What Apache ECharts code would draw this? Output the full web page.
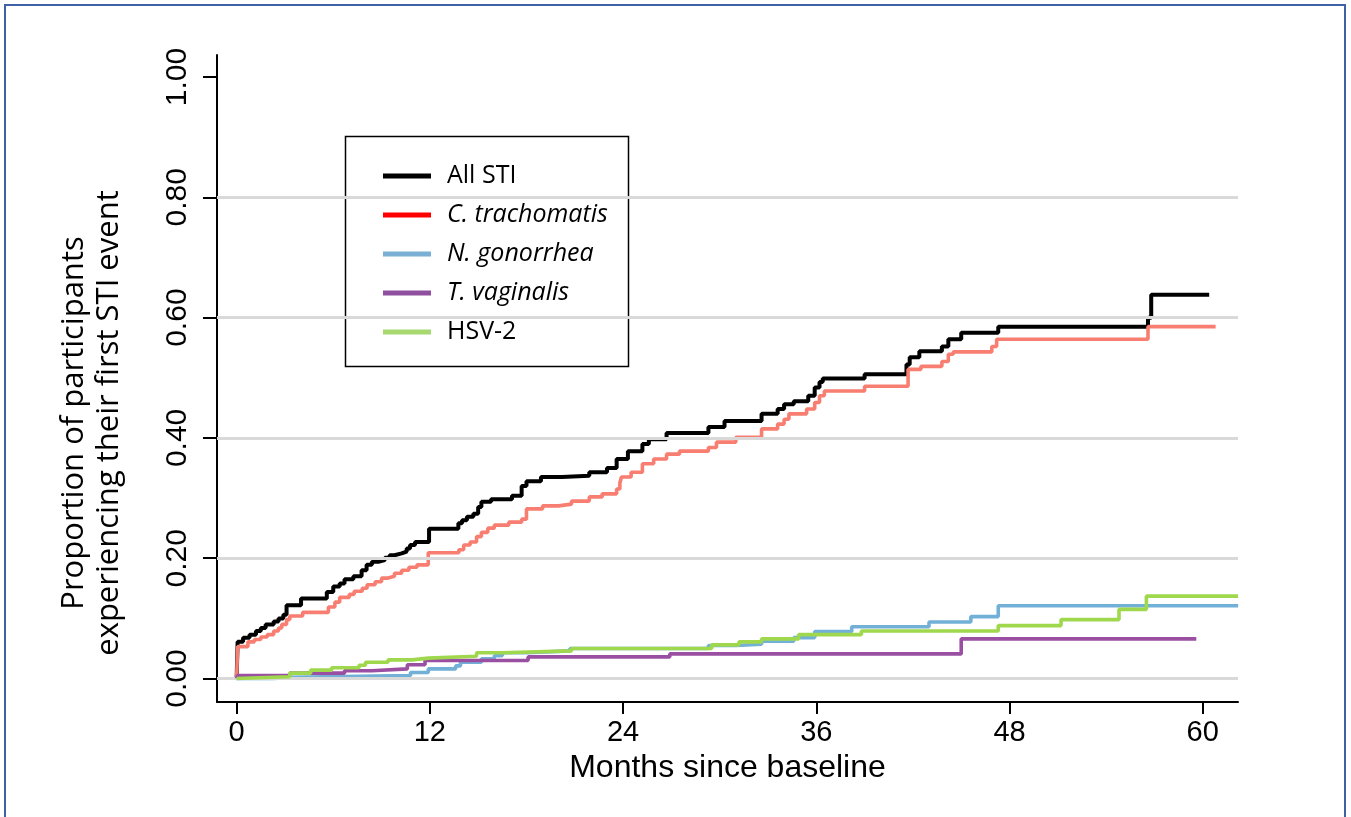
<!DOCTYPE html>
<html>
<head>
<meta charset="utf-8">
<script src="https://cdn.jsdelivr.net/npm/echarts@6/dist/echarts.min.js"></script>
<style>html,body{margin:0;padding:0;background:#fff;}#c{width:1351px;height:817px;}</style>
</head>
<body>
<div id="c"></div>
<script>
// ---- data (months since baseline, cumulative proportion) ----
const seriesNames = ['All STI', 'C. trachomatis', 'N. gonorrhea', 'T. vaginalis', 'HSV-2'];
const xTicks = [0, 12, 24, 36, 48, 60];
const yTicks = [0, 0.2, 0.4, 0.6, 0.8, 1.0];
const gridValues = [0, 0.2, 0.4, 0.6, 0.8];

const allSTI = [[0,0],[0.06,0.061],[0.4,0.068],[0.8,0.073],[1.2,0.079],[1.5,0.084],[1.8,0.09],[2.3,0.095],[2.6,0.1],[2.9,0.106],[3.1,0.122],[4.0,0.133],[5.6,0.144],[6.0,0.153],[6.4,0.158],[6.7,0.165],[7.25,0.17],[7.76,0.18],[8.07,0.189],[8.4,0.194],[8.8,0.197],[9.2,0.201],[9.5,0.205],[9.8,0.208],[10.25,0.211],[10.56,0.216],[10.77,0.222],[11.08,0.227],[11.95,0.249],[13.77,0.258],[14.0,0.263],[14.3,0.269],[14.7,0.274],[15.0,0.285],[15.2,0.294],[15.8,0.298],[17.1,0.304],[17.7,0.32],[18.0,0.328],[18.9,0.335],[20.2,0.337],[21.9,0.343],[23.0,0.35],[23.6,0.365],[24.3,0.378],[25.2,0.39],[25.6,0.398],[26.7,0.408],[29.3,0.418],[30.3,0.428],[32.6,0.44],[33.6,0.448],[34.0,0.456],[34.6,0.461],[35.5,0.47],[35.9,0.484],[36.2,0.493],[36.4,0.499],[39.0,0.506],[41.6,0.522],[41.8,0.534],[42.4,0.544],[43.8,0.552],[44.2,0.564],[45.0,0.575],[47.3,0.585],[56.6,0.60],[56.8,0.638],[60.4,0.638]];

const cTrachomatis = [[0,0],[0.06,0.053],[0.7,0.061],[1.1,0.065],[1.5,0.069],[1.9,0.073],[2.3,0.079],[2.6,0.084],[2.8,0.09],[3.1,0.098],[3.3,0.104],[4.1,0.11],[5.7,0.119],[6.1,0.127],[6.4,0.135],[7.0,0.14],[7.3,0.145],[7.8,0.15],[8.1,0.156],[8.6,0.161],[9.0,0.167],[9.4,0.17],[9.8,0.175],[10.25,0.18],[10.7,0.185],[11.2,0.189],[11.9,0.209],[13.8,0.214],[14.1,0.222],[14.5,0.227],[14.9,0.236],[15.2,0.243],[15.6,0.25],[16.0,0.255],[16.9,0.26],[17.7,0.265],[18.0,0.282],[19.0,0.287],[20.0,0.29],[20.8,0.295],[21.9,0.302],[22.7,0.307],[23.6,0.315],[23.8,0.325],[23.9,0.335],[24.5,0.343],[25.2,0.357],[25.9,0.365],[26.7,0.373],[27.5,0.378],[29.3,0.384],[29.8,0.393],[31.0,0.401],[32.6,0.415],[33.6,0.423],[34.0,0.431],[34.3,0.44],[35.4,0.448],[35.9,0.459],[36.2,0.47],[36.5,0.478],[39.0,0.486],[41.7,0.514],[42.5,0.519],[43.8,0.527],[44.2,0.539],[44.5,0.543],[46.9,0.552],[47.2,0.564],[56.6,0.585],[60.8,0.585]];

const nGonorrhea = [[0,0],[2.3,0.002],[3.2,0.005],[10.8,0.01],[11.9,0.016],[13.6,0.021],[13.9,0.027],[15.2,0.033],[16.0,0.038],[16.5,0.043],[18,0.046],[20.7,0.05],[29.3,0.055],[31,0.057],[32.6,0.062],[34.6,0.068],[35.9,0.078],[38.2,0.086],[43,0.094],[45.6,0.103],[47.3,0.121],[62.2,0.121]];

const tVaginalis = [[0,0],[0.06,0.005],[3.3,0.009],[6.7,0.013],[8.4,0.016],[10.6,0.023],[11.7,0.03],[18.1,0.036],[26.9,0.041],[45,0.066],[59.6,0.066]];

const hsv2 = [[0,0],[0.06,0.003],[3.3,0.009],[4.6,0.014],[5.9,0.018],[7.6,0.022],[8.0,0.027],[9.4,0.031],[10.9,0.034],[11.9,0.037],[14.9,0.043],[16.5,0.046],[20.8,0.05],[29.5,0.056],[31.2,0.061],[32.6,0.066],[34.9,0.073],[38.8,0.079],[47.3,0.088],[51.2,0.098],[54.8,0.115],[56.5,0.137],[62.2,0.137]];

// ---- styles ----
const lineColors = ['#000000', '#F87E72', '#72B0D8', '#9A4FA2', '#9FD84C'];
const legendColors = ['#000000', '#FF0000', '#7BAFD4', '#9050A0', '#A8D870'];
const italic = [false, true, true, true, false];
const seriesData = [allSTI, cTrachomatis, nGonorrhea, tVaginalis, hsv2];

const chart = echarts.init(document.getElementById('c'), null, {renderer: 'canvas'});

const series = [{
  name: 'grid', type: 'line', data: [], z: 1, silent: true,
  markLine: {
    silent: true, symbol: ['none', 'none'], label: {show: false},
    lineStyle: {color: '#D9D9D9', width: 3, type: 'solid'},
    emphasis: {disabled: true},
    data: gridValues.map(v => ({yAxis: v}))
  }
}];
seriesNames.forEach((n, i) => {
  series.push({
    name: n, type: 'line', step: 'end', data: seriesData[i],
    showSymbol: false, symbol: 'none', z: 2 + i,
    lineStyle: {color: lineColors[i], width: i === 0 ? 4 : 3.6},
    itemStyle: {color: lineColors[i]},
    emphasis: {disabled: true}
  });
});

chart.setOption({
  animation: false,
  backgroundColor: '#fff',
  grid: {left: 217, right: 113, top: 55, bottom: 115, containLabel: false},
  xAxis: {
    type: 'value', min: -1.22, max: 62.19,
    axisLine: {show: true, onZero: false, lineStyle: {color: '#000', width: 2}},
    axisTick: {show: true, length: 12, customValues: xTicks, lineStyle: {color: '#000', width: 2}},
    axisLabel: {customValues: xTicks, fontSize: 29, fontFamily: 'Liberation Sans', color: '#000', margin: 16},
    splitLine: {show: false},
    name: 'Months since baseline', nameLocation: 'middle', nameGap: 48,
    nameTextStyle: {fontSize: 32, fontFamily: 'Liberation Sans', color: '#000'}
  },
  yAxis: {
    type: 'value', min: -0.039, max: 1.0366,
    axisLine: {show: true, onZero: false, lineStyle: {color: '#000', width: 2}},
    axisTick: {show: true, length: 14, customValues: yTicks, lineStyle: {color: '#000', width: 2}},
    axisLabel: {customValues: yTicks, rotate: 90, fontSize: 30, fontFamily: 'Liberation Sans', color: '#000', margin: 24,
      formatter: v => v.toFixed(2)},
    splitLine: {show: false}
  },
  legend: {
    show: true, orient: 'vertical', left: 383, top: 163, padding: 0,
    itemWidth: 48, itemHeight: 5, itemGap: 13, icon: 'rect',
    selectedMode: false,
    textStyle: {fontFamily: 'Open Sans', fontSize: 25, color: '#000', lineHeight: 26, padding: [0, 0, 0, 11]},
    data: seriesNames.map((n, i) => ({
      name: n,
      itemStyle: {color: legendColors[i]},
      textStyle: {fontStyle: italic[i] ? 'italic' : 'normal'}
    }))
  },
  graphic: [
    {type: 'rect', z: 3, shape: {x: 345.5, y: 136.5, width: 283, height: 230},
      style: {fill: '#fff', stroke: '#000', lineWidth: 1.5}},
    {type: 'text', z: 5, x: 92, y: 423, rotation: Math.PI / 2,
      style: {text: 'Proportion of participants\nexperiencing their first STI event',
        fontSize: 31, fontFamily: 'Open Sans', fill: '#000', align: 'center', verticalAlign: 'middle', lineHeight: 35}},
    {type: 'rect', z: 10, shape: {x: 5, y: 5, width: 1340, height: 840},
      style: {fill: 'none', stroke: '#3F62A6', lineWidth: 2}}
  ],
  series: series
});
</script>
</body>
</html>
